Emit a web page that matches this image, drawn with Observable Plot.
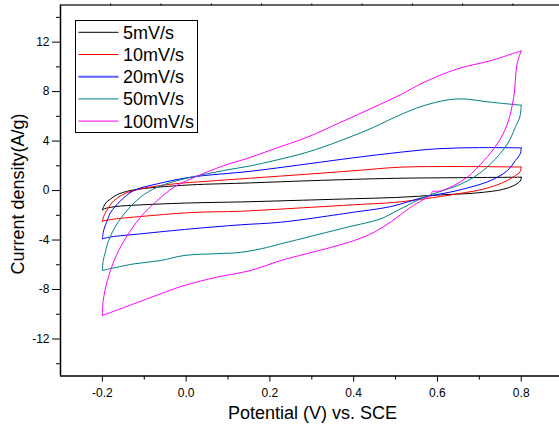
<!DOCTYPE html>
<html>
<head>
<meta charset="utf-8">
<script src="https://cdn.jsdelivr.net/npm/d3@7"></script>
<script src="https://cdn.jsdelivr.net/npm/@observablehq/plot@0.6"></script>
<style>
  html, body { margin: 0; padding: 0; background: #fff; }
  #wrap { position: relative; width: 559px; height: 427px; overflow: hidden; }
  #legend { position: absolute; left: 0; top: 0; }
</style>
</head>
<body>
<div id="wrap"></div>
<script>
// ---- data ----
const seriesNames = ["5mV/s", "10mV/s", "20mV/s", "50mV/s", "100mV/s"];
const seriesColors = ["#000000", "#ff0000", "#0000ff", "#008080", "#ff00ff"];

const E5 = [-0.2, -0.197, -0.192, -0.18, -0.164, -0.14, -0.109, -0.069, 0.011, 0.154, 0.3, 0.5, 0.65, 0.8, 0.799, 0.79, 0.775, 0.75, 0.687, 0.607, 0.5, 0.4, 0.3, 0.13, 0.011, -0.109, -0.17, -0.195, -0.2];
const I5 = [-1.56, -1.3, -1.0, -0.67, -0.32, -0.05, 0.13, 0.27, 0.46, 0.62, 0.8, 0.99, 1.04, 1.08, 0.85, 0.55, 0.3, 0.05, -0.21, -0.35, -0.56, -0.66, -0.76, -0.92, -1.0, -1.16, -1.3, -1.47, -1.56];

const E10 = [-0.2, -0.197, -0.192, -0.182, -0.172, -0.148, -0.109, -0.029, 0.05, 0.154, 0.3, 0.4, 0.512, 0.647, 0.8, 0.797, 0.786, 0.758, 0.711, 0.647, 0.568, 0.5, 0.4, 0.3, 0.13, 0.011, -0.109, -0.17, -0.196, -0.2];
const I10 = [-2.5, -2.1, -1.75, -1.2, -0.81, -0.27, 0.13, 0.54, 0.75, 1.0, 1.35, 1.6, 1.89, 1.94, 1.9, 1.5, 1.21, 0.67, 0.13, -0.27, -0.67, -0.95, -1.15, -1.35, -1.67, -1.78, -2.1, -2.3, -2.45, -2.5];

const E20 = [-0.2, -0.198, -0.196, -0.188, -0.18, -0.156, -0.125, -0.069, 0.011, 0.154, 0.3, 0.4, 0.512, 0.6, 0.7, 0.8, 0.798, 0.786, 0.767, 0.727, 0.647, 0.568, 0.488, 0.4, 0.35, 0.226, 0.13, 0.011, -0.109, -0.18, -0.2];
const I20 = [-3.9, -3.4, -3.1, -2.4, -1.75, -0.81, 0.0, 0.54, 1.08, 1.56, 2.2, 2.65, 3.1, 3.38, 3.47, 3.45, 3.0, 2.42, 1.62, 0.81, 0.0, -0.54, -1.3, -1.75, -2.0, -2.56, -2.77, -3.1, -3.5, -3.75, -3.9];

const E50 = [-0.2, -0.198, -0.193, -0.188, -0.172, -0.148, -0.109, -0.069, -0.005, 0.09, 0.154, 0.21, 0.289, 0.369, 0.448, 0.5, 0.568, 0.647, 0.727, 0.8, 0.797, 0.786, 0.767, 0.727, 0.687, 0.647, 0.568, 0.504, 0.464, 0.385, 0.305, 0.226, 0.18, 0.13, 0.074, -0.005, -0.061, -0.125, -0.2];
const I50 = [-6.46, -5.66, -5.0, -4.31, -3.1, -1.89, -0.54, 0.27, 0.94, 1.62, 2.0, 2.42, 3.1, 4.04, 5.12, 5.95, 6.87, 7.41, 7.14, 6.9, 6.0, 5.12, 3.77, 2.16, 1.08, 0.4, -0.54, -1.62, -2.29, -2.96, -3.64, -4.31, -4.7, -5.0, -5.1, -5.25, -5.66, -5.93, -6.46];

const E100 = [-0.2, -0.198, -0.188, -0.172, -0.148, -0.109, -0.069, -0.029, 0.011, 0.09, 0.146, 0.21, 0.289, 0.369, 0.448, 0.512, 0.568, 0.647, 0.727, 0.8, 0.79, 0.782, 0.767, 0.743, 0.711, 0.671, 0.631, 0.605, 0.588, 0.585, 0.536, 0.49, 0.45, 0.4, 0.345, 0.226, 0.154, 0.074, -0.005, -0.061, -0.125, -0.2];
const I100 = [-10.1, -8.9, -7.27, -5.66, -4.04, -2.16, -0.81, 0.27, 0.94, 2.02, 2.6, 3.37, 4.31, 5.52, 6.73, 7.75, 8.75, 9.83, 10.5, 11.3, 10.2, 7.54, 5.39, 3.77, 2.42, 1.08, 0.27, -0.05, -0.08, -0.3, -1.35, -2.5, -3.35, -4.05, -4.6, -5.66, -6.46, -7.0, -7.68, -8.35, -9.16, -10.1];

const xMajor = [-0.2, 0.0, 0.2, 0.4, 0.6, 0.8];
const xMinor = [-0.1, 0.1, 0.3, 0.5, 0.7];
const xTop = [-0.18, -0.06, 0.06, 0.18, 0.30, 0.42, 0.54, 0.66, 0.78];
const yMajor = [-12, -8, -4, 0, 4, 8, 12];
const yMinor = [-14, -10, -6, -2, 2, 6, 10, 14];
const xDomain = [-0.3, 0.8914];
const yDomain = [-15, 15];
const xTitle = "Potential (V) vs. SCE";
const yTitle = "Current density(A/g)";

// ---- build table: split each loop into anodic (forward) and cathodic (reverse) sweeps ----
const Es = [E5, E10, E20, E50, E100];
const Is = [I5, I10, I20, I50, I100];
const rows = seriesNames.flatMap((name, s) => {
  const E = Es[s], I = Is[s];
  const turn = E.indexOf(d3.max(E));
  const out = [];
  E.forEach((e, k) => {
    if (k <= turn) out.push({name, sweep: name + "-a", E: e, I: I[k]});
    if (k >= turn) out.push({name, sweep: name + "-c", E: e, I: I[k]});
  });
  return out;
});

const font = "'Liberation Sans', Arial, Helvetica, sans-serif";

const chart = Plot.plot({
  width: 559,
  height: 427,
  marginLeft: 60,
  marginRight: 0,
  marginTop: 4.5,
  marginBottom: 51.4,
  style: {fontFamily: font, fontSize: "12px", background: "white", color: "black"},
  x: {domain: xDomain},
  y: {domain: yDomain},
  color: {domain: seriesNames, range: seriesColors},
  marks: [
    Plot.line(rows, {x: "E", y: "I", z: "sweep", stroke: "name", strokeWidth: 1, curve: "catmull-rom"}),
    // axes
    Plot.ruleX([xDomain[0]], {stroke: "black", strokeWidth: 1.5}),
    Plot.ruleY([yDomain[0]], {stroke: "black", strokeWidth: 1.5}),
    Plot.ruleY([yDomain[1]], {stroke: "#333", strokeWidth: 1.6}),
    Plot.axisX({ticks: xMinor, anchor: "bottom", tickSize: 4, tickFormat: () => "", label: null}),
    Plot.axisX({ticks: xMajor, anchor: "bottom", tickSize: 6, tickPadding: 6, tickFormat: d => d.toFixed(1), label: null, fontSize: 12}),
    Plot.axisX({ticks: xTop, anchor: "top", tickSize: 2, tickFormat: () => "", label: null}),
    Plot.axisY({ticks: yMinor, anchor: "left", tickSize: 4, tickFormat: () => "", label: null}),
    Plot.axisY({ticks: yMajor, anchor: "left", tickSize: 8, tickPadding: 3, tickFormat: d => String(d), label: null, fontSize: 12}),
    // titles
    Plot.text([xTitle], {frameAnchor: "bottom", textAnchor: "middle", lineAnchor: "bottom", dy: 42.4, dx: 2.5, fontSize: 18, fill: "black"}),
    Plot.text([yTitle], {frameAnchor: "left", textAnchor: "middle", lineAnchor: "bottom", rotate: -90, dx: -37, dy: 3.5, fontSize: 18, fill: "black"})
  ]
});

const wrap = document.getElementById("wrap");
wrap.appendChild(chart);

// ---- legend (inside plot area, top-left) ----
const lg = d3.select(wrap).append("svg")
  .attr("id", "legend")
  .attr("width", 559).attr("height", 427)
  .style("font-family", font);
const box = {x: 75.5, y: 20.5, w: 122, h: 112};
lg.append("rect").attr("x", box.x).attr("y", box.y).attr("width", box.w).attr("height", box.h)
  .attr("fill", "white").attr("stroke", "black").attr("stroke-width", 1);
seriesNames.forEach((name, i) => {
  const cy = box.y + 11.8 + i * 22.2;
  lg.append("line").attr("x1", box.x + 3).attr("x2", box.x + 43).attr("y1", cy).attr("y2", cy)
    .attr("stroke", i === 2 ? "#5f5fff" : seriesColors[i])
    .attr("stroke-width", i === 2 ? 2 : 1);
  lg.append("text").attr("x", box.x + 47.5).attr("y", cy).attr("dy", "0.36em")
    .attr("font-size", 18).attr("fill", "black").text(name);
});
</script>
</body>
</html>
